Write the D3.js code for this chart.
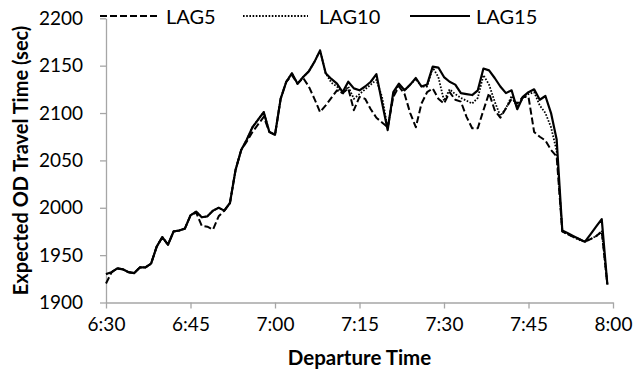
<!DOCTYPE html>
<html>
<head>
<meta charset="utf-8">
<script src="https://cdn.jsdelivr.net/npm/d3@7"></script>
<style>
    body { margin: 0; background: #fff; }
    text { font-family: Lato, "Open Sans", sans-serif; fill: #000; }
</style>
</head>
<body>
<div class="canvas"></div>
<script>
// minutes after 6:30, one point per minute
const minutes = d3.range(0, 90);

const lag5 = [
    1920, 1932, 1936, 1935, 1932, 1931, 1937, 1937, 1941, 1959,
    1969, 1961, 1975, 1976, 1978, 1992, 1995, 1981, 1980, 1977,
    1991, 1997, 2005, 2040, 2061, 2070, 2080, 2088, 2096, 2080,
    2077, 2115, 2133, 2140, 2131, 2137, 2128, 2115, 2101, 2108,
    2116, 2124, 2121, 2126, 2103, 2117, 2115, 2104, 2095, 2090,
    2085, 2117, 2128, 2120, 2100, 2085, 2110, 2122, 2126, 2115,
    2110, 2122, 2114, 2112, 2096, 2084, 2084, 2103, 2121, 2103,
    2095, 2105, 2115, 2110, 2117, 2117, 2080, 2075, 2071, 2061,
    2054, 1975, 1972, 1969, 1967, 1964, 1967, 1970, 1975, 1919
];

const lag10 = [
    1930, 1932, 1936, 1935, 1932, 1931, 1937, 1937, 1941, 1959,
    1969, 1961, 1975, 1976, 1978, 1992, 1996, 1990, 1991, 1997,
    2000, 1997, 2005, 2040, 2061, 2072, 2085, 2093, 2101, 2080,
    2077, 2115, 2133, 2142, 2131, 2138, 2144, 2154, 2166, 2142,
    2132, 2128, 2120, 2128, 2115, 2120, 2125, 2130, 2135, 2117,
    2084, 2120, 2130, 2124, 2130, 2136, 2128, 2128, 2148, 2138,
    2113, 2125, 2120, 2116, 2113, 2110, 2116, 2140, 2130, 2112,
    2097, 2105, 2118, 2106, 2116, 2120, 2122, 2108, 2100, 2085,
    2060, 1975, 1972, 1969, 1966, 1964, 1967, 1970, 1975, 1919
];

const lag15 = [
    1930, 1932, 1936, 1935, 1932, 1931, 1937, 1937, 1941, 1959,
    1969, 1961, 1975, 1976, 1978, 1992, 1996, 1990, 1991, 1997,
    2000, 1997, 2005, 2040, 2061, 2072, 2085, 2093, 2101, 2080,
    2077, 2115, 2133, 2142, 2131, 2138, 2144, 2154, 2166, 2142,
    2136, 2131, 2122, 2133, 2126, 2124, 2128, 2133, 2141, 2111,
    2082, 2122, 2131, 2124, 2130, 2137, 2128, 2130, 2149, 2148,
    2138, 2133, 2130, 2121, 2120, 2119, 2124, 2147, 2145, 2137,
    2128, 2121, 2124, 2104, 2117, 2122, 2125, 2114, 2118, 2100,
    2072, 1976, 1973, 1970, 1967, 1964, 1972, 1980, 1988, 1919
];

const seriesNames = ['LAG5', 'LAG10', 'LAG15'];
const yTicks = [1900, 1950, 2000, 2050, 2100, 2150, 2200];

// styles per series
const styles = [
    { dash: '7,3', width: 2 },
    { dash: '1.6,1.6', width: 1.8 },
    { dash: null, width: 2.2 }
];

const width = 636, height = 377;
const plot = { left: 106, right: 613, top: 18.3, bottom: 302.5 };

const start = new Date(2000, 0, 1, 6, 30);
const toTime = m => new Date(start.getTime() + m * 60000);

const svg = d3.select('.canvas')
    .append('svg')
    .attr('width', width)
    .attr('height', height);

const x = d3.scaleTime()
    .domain([start, new Date(2000, 0, 1, 8, 0)])
    .range([plot.left, plot.right]);

const y = d3.scaleLinear()
    .domain([1900, 2200])
    .range([plot.bottom, plot.top]);

// axes
const xAxis = d3.axisBottom(x)
    .ticks(d3.timeMinute.every(15))
    .tickFormat(d3.timeFormat('%-H:%M'))
    .tickSize(6)
    .tickSizeOuter(0)
    .tickPadding(9);

const yAxis = d3.axisLeft(y)
    .tickValues(yTicks)
    .tickFormat(d3.format('d'))
    .tickSize(6)
    .tickSizeOuter(0)
    .tickPadding(17);

const xg = svg.append('g')
    .attr('transform', `translate(0, ${plot.bottom})`)
    .call(xAxis);

const yg = svg.append('g')
    .attr('transform', `translate(${plot.left}, 0)`)
    .call(yAxis);

[xg, yg].forEach(g => {
    g.select('.domain').attr('stroke', '#a6a6a6').attr('stroke-width', 1.3);
    g.selectAll('.tick line').attr('stroke', '#a6a6a6').attr('stroke-width', 1.3);
    g.selectAll('.tick text')
        .attr('font-family', 'Lato, sans-serif')
        .attr('font-size', 19)
        .attr('fill', '#000');
});

// axis titles
svg.append('text')
    .attr('x', (plot.left + plot.right) / 2)
    .attr('y', 365)
    .attr('text-anchor', 'middle')
    .attr('font-size', 20.5)
    .attr('font-weight', 'bold')
    .text('Departure Time');

svg.append('text')
    .attr('transform', `translate(28, ${(plot.top + plot.bottom) / 2}) rotate(-90)`)
    .attr('text-anchor', 'middle')
    .attr('font-size', 20)
    .attr('font-weight', 'bold')
    .text('Expected OD Travel Time (sec)');

// lines
const line = d3.line()
    .x((d, i) => x(toTime(minutes[i])))
    .y(d => y(d));

[lag5, lag10, lag15].forEach((values, i) => {
    svg.append('path')
        .datum(values)
        .attr('fill', 'none')
        .attr('stroke', '#000')
        .attr('stroke-width', styles[i].width)
        .attr('stroke-dasharray', styles[i].dash)
        .attr('stroke-linejoin', 'round')
        .attr('d', line);
});

// legend
const legendX = [100, 243, 410];
const legend = svg.append('g');

seriesNames.forEach((name, i) => {
    const g = legend.append('g')
        .attr('transform', `translate(${legendX[i]}, 16)`);
    g.append('line')
        .attr('x1', 0).attr('x2', i === 1 ? 65 : 60)
        .attr('y1', 0).attr('y2', 0)
        .attr('stroke', '#000')
        .attr('stroke-width', styles[i].width)
        .attr('stroke-dasharray', styles[i].dash);
    g.append('text')
        .attr('x', i === 1 ? 76 : 66)
        .attr('y', 1)
        .attr('dy', '0.35em')
        .attr('font-size', 20)
        .text(name);
});
</script>
</body>
</html>
